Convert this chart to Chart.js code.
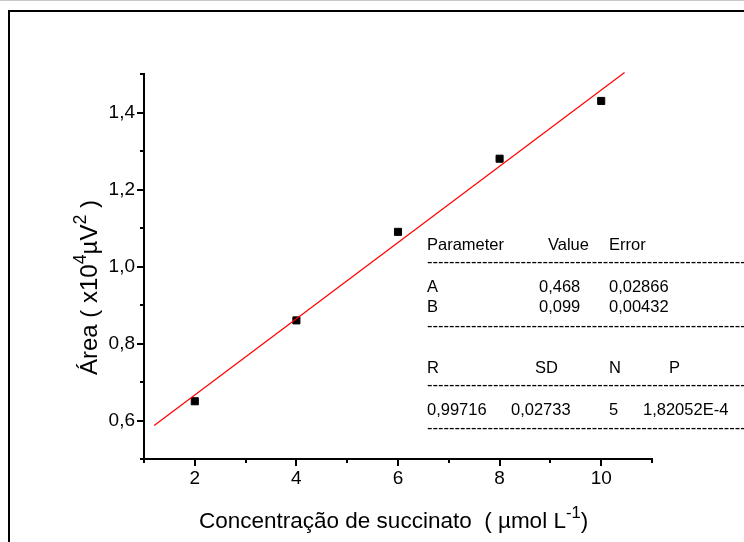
<!DOCTYPE html>
<html>
<head>
<meta charset="utf-8">
<script src="https://cdn.jsdelivr.net/npm/chart.js@4"></script>
<style>
  html, body { margin: 0; padding: 0; background: #fff; }
  #wrap { width: 744px; height: 542px; position: relative; }
</style>
</head>
<body>
<div id="wrap"><canvas id="myChart"></canvas></div>
<script>
// measured points
var concentration = [2, 4, 6, 8, 10];
var area = [0.65, 0.86, 1.09, 1.28, 1.43];

// linear fit, y = A + B*x, drawn between its two end points
var fitX = [1.2, 10.46];
var fitY = [0.587, 1.504];

// axis ticks
var xMajor = [2, 4, 6, 8, 10];
var xMinor = [1, 3, 5, 7, 9, 11];
var xLabels = ['2', '4', '6', '8', '10'];
var yMajor = [0.6, 0.8, 1.0, 1.2, 1.4];
var yMinor = [0.5, 0.7, 0.9, 1.1, 1.3, 1.5];
var yLabels = ['0,6', '0,8', '1,0', '1,2', '1,4'];

// fit report
var paramNames = ['A', 'B'];
var paramValues = ['0,468', '0,099'];
var paramErrors = ['0,02866', '0,00432'];
var statNames = ['R', 'SD', 'N', 'P'];
var statValues = ['0,99716', '0,02733', '5', '1,82052E-4'];

var FONT = '"Liberation Sans", Arial, sans-serif';

// draws pieces of text one after another, sup pieces smaller and raised
function drawRuns(ctx, runs, x, y, size) {
    runs.forEach(function (r) {
        var s = r[1] ? size * 0.74 : size;
        ctx.font = s + 'px ' + FONT;
        ctx.fillText(r[0], x, r[1] ? y - size * 0.45 : y);
        x += ctx.measureText(r[0]).width;
    });
}

var decorations = {
    id: 'decorations',
    afterDraw: function (chart) {
        var ctx = chart.ctx;
        var a = chart.chartArea;
        var xs = chart.scales.x, ys = chart.scales.y;
        ctx.save();

        // page frame
        ctx.strokeStyle = '#c8c8c8';
        ctx.lineWidth = 1;
        ctx.beginPath();
        ctx.moveTo(0, 0.5); ctx.lineTo(744, 0.5);
        ctx.stroke();
        ctx.strokeStyle = '#000';
        ctx.lineWidth = 2;
        ctx.strokeRect(9, 11, 800, 600);

        // outward tick marks
        ctx.lineWidth = 2;
        ctx.beginPath();
        xMajor.forEach(function (v) {
            var p = Math.round(xs.getPixelForValue(v));
            ctx.moveTo(p, a.bottom); ctx.lineTo(p, a.bottom + 7);
        });
        xMinor.forEach(function (v) {
            var p = Math.round(xs.getPixelForValue(v));
            ctx.moveTo(p, a.bottom); ctx.lineTo(p, a.bottom + 4);
        });
        yMajor.forEach(function (v) {
            var p = Math.round(ys.getPixelForValue(v));
            ctx.moveTo(a.left, p); ctx.lineTo(a.left - 7, p);
        });
        yMinor.forEach(function (v) {
            var p = Math.round(ys.getPixelForValue(v));
            ctx.moveTo(a.left, p); ctx.lineTo(a.left - 4, p);
        });
        ctx.stroke();

        ctx.fillStyle = '#000';
        ctx.textBaseline = 'alphabetic';
        ctx.textAlign = 'left';

        // axis titles
        drawRuns(ctx, [['Concentração de succinato  ( µmol L', 0], ['-1', 1], [')', 0]], 199, 528, 22.5);
        ctx.save();
        ctx.translate(97, 375);
        ctx.rotate(-Math.PI / 2);
        drawRuns(ctx, [['Área ( x10', 0], ['4', 1], ['µV', 0], ['2', 1], [' )', 0]], 0, 0, 24);
        ctx.restore();

        // fit report table
        ctx.font = '16.5px ' + FONT;
        ctx.textBaseline = 'middle';
        var dashes = new Array(80).join('-');
        function row(y, items) {
            items.forEach(function (it) { ctx.fillText(it[0], it[1], y); });
        }
        row(245.5, [['Parameter', 427], ['Value', 548], ['Error', 609]]);
        row(262, [[dashes, 427]]);
        paramNames.forEach(function (n, i) {
            row(287 + i * 20, [[n, 427], [paramValues[i], 539], [paramErrors[i], 609]]);
        });
        row(326, [[dashes, 427]]);
        row(368.5, [[statNames[0], 427], [statNames[1], 535], [statNames[2], 609], [statNames[3], 669]]);
        row(385.5, [[dashes, 427]]);
        row(410, [[statValues[0], 427], [statValues[1], 511], [statValues[2], 609], [statValues[3], 643]]);
        row(428, [[dashes, 427]]);

        ctx.restore();
    }
};

var ctx = document.getElementById('myChart').getContext('2d');
var myChart = new Chart(ctx, {
    type: 'scatter',
    data: {
        datasets: [
        {
            label: 'Área',
            data: concentration.map(function (c, i) { return { x: c, y: area[i] }; }),
            pointStyle: 'rect',
            pointRadius: 5,
            backgroundColor: '#000',
            borderColor: '#000',
            borderWidth: 1,
            order: 2
        },
        {
            label: 'Ajuste linear',
            type: 'line',
            data: fitX.map(function (c, i) { return { x: c, y: fitY[i] }; }),
            borderColor: '#ff0000',
            borderWidth: 1.2,
            pointRadius: 0,
            fill: false,
            clip: false,
            order: 1
        }
        ]
    },
    options: {
        responsive: true,
        maintainAspectRatio: false,
        animation: false,
        events: [],
        layout: { padding: { left: 0, right: 92, top: 74, bottom: 0 } },
        plugins: {
            legend: { display: false },
            tooltip: { enabled: false }
        },
        scales: {
            x: {
                type: 'linear',
                min: 1,
                max: 11,
                afterBuildTicks: function (scale) {
                    scale.ticks = xMajor.map(function (v) { return { value: v }; });
                },
                afterFit: function (scale) { scale.height = 83; },
                ticks: {
                    padding: 8,
                    color: '#000',
                    font: { family: FONT, size: 19 },
                    maxRotation: 0,
                    callback: function (v) { return xLabels[xMajor.indexOf(v)]; }
                },
                grid: { display: false, drawTicks: false },
                border: { display: true, color: '#000', width: 2 }
            },
            y: {
                type: 'linear',
                min: 0.5,
                max: 1.5,
                afterBuildTicks: function (scale) {
                    scale.ticks = yMajor.map(function (v) { return { value: v }; });
                },
                afterFit: function (scale) { scale.width = 144; },
                ticks: {
                    padding: 9,
                    color: '#000',
                    font: { family: FONT, size: 19 },
                    callback: function (v) { return yLabels[yMajor.indexOf(v)]; }
                },
                grid: { display: false, drawTicks: false },
                border: { display: true, color: '#000', width: 2 }
            }
        }
    },
    plugins: [decorations]
});
</script>
</body>
</html>
